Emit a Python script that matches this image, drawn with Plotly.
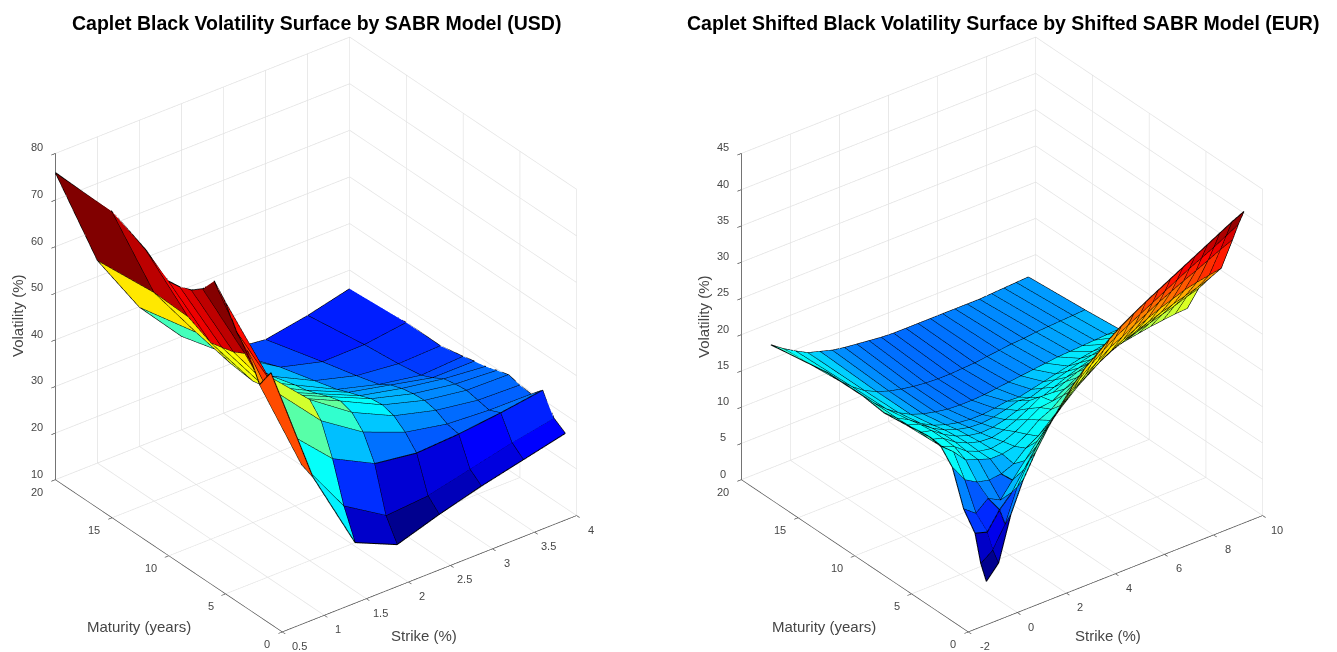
import plotly.graph_objects as go

USD_STRIKES = [0.5, 1, 1.5, 2, 2.5, 3, 3.5, 4]
USD_MATURITIES = [1, 2, 3, 4, 5, 6, 7, 8, 9, 10, 12, 15, 20]
USD_VOL = [
    [64, 38, 20.4, 16.4, 19.3, 21.8, 23.9, 26],
    [59.8, 39.1, 26.6, 21, 21.7, 23.8, 25.9, 27.6],
    [65.1, 43.8, 35.1, 30.5, 29.2, 29.7, 30.7, 32],
    [67.7, 50.9, 41.6, 35.6, 32, 30.2, 29.6, 29.5],
    [72.5, 53.2, 44.5, 38.2, 33.9, 31.5, 30.1, 29.8],
    [75.5, 52.2, 43.2, 39, 34.6, 32, 30.6, 30.4],
    [72.2, 54.8, 42.3, 38.3, 34.3, 31.8, 30.3, 29.7],
    [70.3, 53.5, 41.3, 37.3, 33.3, 31.3, 29.8, 28.9],
    [69.3, 52.8, 40.9, 36.4, 32.4, 30.4, 28.4, 28.4],
    [68.9, 52.2, 40.4, 35.9, 31.4, 28.9, 27.3, 27.8],
    [72.3, 54.5, 41, 34.5, 30, 27.5, 26.5, 26.8],
    [75.7, 54.8, 42.7, 33.6, 28, 25.6, 25.7, 26.9],
    [75.9, 53.5, 39.9, 30.1, 23.3, 22.2, 23.8, 26],
]

EUR_STRIKES = [-0.8, -0.3, 0.2, 0.7, 1.2, 1.7, 2.2, 2.7, 3.2, 3.7, 4.2, 4.7, 5.2, 5.7, 6.2, 6.7, 7.2, 7.7, 8.2, 8.7, 9.2, 9.7]
EUR_MATURITIES = [1, 1.5, 2, 3, 4, 5, 6, 7, 8, 9, 10, 12, 15, 20]
EUR_VOL = [
    [4.3, 6.2, 12.2, 16.3, 19.4, 22.1, 24.4, 26.5, 28.3, 29.6, 31, 32.2, 33.2, 34.2, 35.1, 36, 36.9, 37.8, 38.7, 39.6, 40.5, 41.3],
    [6.3, 7.5, 10.3, 14.8, 17.8, 20.3, 22.5, 24.5, 26.3, 27.7, 29, 30.2, 31.1, 32, 32.9, 33.8, 34.7, 35.6, 36.4, 37.2, 38.1, 39],
    [9.9, 9.4, 11.8, 13.5, 16, 18.5, 20.7, 22.7, 24.3, 25.8, 27, 28.2, 29, 30, 30.9, 31.8, 32.6, 33.4, 34.1, 34.9, 35.7, 36.4],
    [12.2, 10.9, 12.3, 11.4, 13.5, 15.5, 17.5, 19.3, 21, 22.5, 23.9, 25, 26, 26.9, 27.7, 28.5, 29.2, 29.8, 30.4, 30.8, 31.1, 31.4],
    [16.9, 14.5, 13.5, 13.1, 13.3, 14, 15.5, 16.5, 18, 19.5, 21, 22.2, 23.4, 24.3, 25, 25.7, 26.3, 26.9, 27.4, 27.9, 28.4, 29],
    [18.7, 17.3, 15.5, 14.9, 14.3, 14.3, 14.7, 15.7, 17, 17.8, 19.1, 20.3, 21.3, 22.1, 22.8, 23.4, 23.9, 24.4, 24.9, 25.4, 26, 26.5],
    [19, 17, 16.3, 15, 14.3, 14, 14.3, 15, 16, 17, 17.2, 18.2, 19.1, 19.9, 20.6, 21.2, 21.6, 21.9, 22.2, 22.4, 22.6, 22.7],
    [18.8, 16.9, 16.4, 15.2, 14.4, 13.9, 13.8, 14.2, 14.9, 15.8, 16.8, 16.7, 17.5, 18.2, 18.8, 19.3, 19.8, 20.2, 20.6, 20.8, 21, 21.2],
    [18.5, 16.8, 16.4, 15.2, 14.3, 13.7, 13.4, 13.5, 13.9, 14.5, 15.2, 15, 15.7, 16.4, 17, 17.5, 18, 18.4, 18.8, 19.1, 19.4, 19.7],
    [18.3, 16.8, 16.2, 15, 14.1, 13.5, 13.1, 13, 13.2, 13.6, 14.1, 13.9, 14.5, 15, 15.5, 16, 16.4, 16.8, 17.2, 17.6, 18, 18.3],
    [18.1, 16.7, 15.8, 14.6, 13.7, 13.1, 12.7, 12.5, 12.5, 12.7, 13, 12.9, 13.3, 13.7, 14.1, 14.5, 14.9, 15.2, 15.5, 15.8, 16.1, 16.3],
    [18.5, 16.7, 15.2, 14, 13.1, 12.5, 12.1, 11.8, 11.7, 11.7, 11.8, 12, 12.2, 12.4, 12.6, 12.8, 13, 13.1, 13.2, 13.3, 13.4, 13.5],
    [18.4, 16.6, 15.1, 13.9, 13.1, 12.5, 12.1, 11.8, 11.6, 11.5, 11.5, 11.6, 11.7, 11.9, 12.1, 12.3, 12.4, 12.6, 12.7, 12.8, 12.9, 13],
    [17, 15.8, 14.8, 13.9, 13.4, 12.9, 12.6, 12.4, 12.2, 12, 11.9, 11.9, 11.9, 11.9, 11.9, 11.9, 11.9, 11.9, 12, 12.1, 12.2, 12.3],
]

USD_X_TICKS = [0.5, 1, 1.5, 2, 2.5, 3, 3.5, 4]
EUR_X_TICKS = [-2, 0, 2, 4, 6, 8, 10]
Y_TICKS = [0, 5, 10, 15, 20]
USD_Z_TICKS = [10, 20, 30, 40, 50, 60, 70, 80]
EUR_Z_TICKS = [0, 5, 10, 15, 20, 25, 30, 35, 40, 45]

TITLES = ["Caplet Black Volatility Surface by SABR Model (USD)",
          "Caplet Shifted Black Volatility Surface by Shifted SABR Model (EUR)"]

JET = [[0, "rgb(0,0,143)"], [0.125, "rgb(0,0,255)"], [0.375, "rgb(0,255,255)"],
       [0.625, "rgb(255,255,0)"], [0.875, "rgb(255,0,0)"], [1, "rgb(128,0,0)"]]
JET_EUR = [[0, "rgb(0,0,143)"], [0.1, "rgb(0,0,255)"], [0.205, "rgb(0,120,255)"],
           [0.235, "rgb(0,160,255)"], [0.265, "rgb(0,225,255)"], [0.34, "rgb(5,255,250)"],
           [0.48, "rgb(128,255,128)"], [0.6, "rgb(230,255,25)"], [0.625, "rgb(255,255,0)"],
           [0.875, "rgb(255,0,0)"], [1, "rgb(128,0,0)"]]

W, H = 1337, 652
PAGE_MARGIN = 8
TICK = "rgb(70,70,70)"
fig = go.Figure()


def add_surface(scene, xs, ys, zs, scale):
    nx, ny = len(xs), len(ys)
    vx, vy, vz, ii, jj, kk, cell = [], [], [], [], [], [], []
    for r in range(ny):
        for c in range(nx):
            vx.append(xs[c]); vy.append(ys[r]); vz.append(zs[r][c])
    for r in range(ny - 1):
        for c in range(nx - 1):
            a = r * nx + c
            b, d, e = a + 1, a + nx, a + nx + 1
            ii += [a, a]; jj += [b, e]; kk += [e, d]
            cell += [zs[r][c], zs[r][c]]
    lo = min(min(row) for row in zs)
    hi = max(max(row) for row in zs)
    fig.add_trace(go.Mesh3d(x=vx, y=vy, z=vz, i=ii, j=jj, k=kk, intensity=cell,
                            intensitymode="cell", colorscale=scale, cmin=lo, cmax=hi,
                            showscale=False, flatshading=True, hoverinfo="skip",
                            lighting=dict(ambient=1, diffuse=0, specular=0, roughness=1, fresnel=0),
                            scene=scene))
    lx, ly, lz = [], [], []
    for r in range(ny):
        lx += list(xs) + [None]
        ly += [ys[r]] * nx + [None]
        lz += list(zs[r]) + [None]
    for c in range(nx):
        lx += [xs[c]] * ny + [None]
        ly += list(ys) + [None]
        lz += [zs[r][c] for r in range(ny)] + [None]
    fig.add_trace(go.Scatter3d(x=lx, y=ly, z=lz, mode="lines",
                               line=dict(color="black", width=2),
                               hoverinfo="skip", showlegend=False, scene=scene))


add_surface("scene", USD_STRIKES, USD_MATURITIES, USD_VOL, JET)
add_surface("scene2", EUR_STRIKES, EUR_MATURITIES, EUR_VOL, JET_EUR)


def axis(rng, ticks):
    return dict(range=rng, tickvals=ticks, showticklabels=False, title=dict(text=""),
                showbackground=False, showgrid=True, gridcolor="rgb(225,225,225)", gridwidth=1.5,
                zeroline=False, showline=True, linecolor=TICK, linewidth=1.5,
                ticks="outside", ticklen=5, tickcolor=TICK, tickwidth=1.5, showspikes=False)


EYE = dict(x=-0.522 * 1.41, y=-0.680 * 1.41, z=0.515 * 1.41)


def tick_notes(xr, xt, zr, zt):
    out = []
    base = dict(showarrow=False, xanchor="center", yanchor="middle",
                font=dict(family="Liberation Sans", size=11, color=TICK))
    for t in xt:
        out.append(dict(x=t, y=0, z=zr[0], text=str(t), xshift=17 if t == xt[0] else 14, yshift=-14, **base))
    for t in Y_TICKS:
        out.append(dict(x=xr[0], y=t, z=zr[0], text=str(t), xshift=-15 if t < 10 else -18, yshift=-12, **base))
    for t in zt:
        out.append(dict(x=xr[0], y=20, z=t, text=str(t), xshift=-18, yshift=6, **base))
    return out


def scene_layout(domain_x, xr, xt, zr, zt):
    return dict(domain=dict(x=[domain_x[0] / W, domain_x[1] / W], y=[7 / H, 644 / H]),
                xaxis=axis(xr, xt), yaxis=axis([0, 20], Y_TICKS), zaxis=axis(zr, zt),
                aspectmode="manual", aspectratio=dict(x=1.165, y=1.17, z=1.195),
                camera=dict(eye=EYE, up=dict(x=0, y=0, z=1), center=dict(x=0, y=0, z=0),
                            projection=dict(type="orthographic")),
                annotations=tick_notes(xr, xt, zr, zt))


def note(px, py, text, size, bold=False, angle=0):
    return dict(x=(px - PAGE_MARGIN) / W, y=1 - (py - PAGE_MARGIN) / H, xref="paper", yref="paper",
                text=("<b>%s</b>" % text) if bold else text,
                showarrow=False, textangle=angle, xanchor="center", yanchor="middle",
                font=dict(family="Liberation Sans", size=size,
                          color="black" if bold else TICK))


fig.update_layout(
    width=W, height=H, autosize=False, showlegend=False, paper_bgcolor="white",
    margin=dict(l=0, r=0, t=0, b=0),
    scene=scene_layout([8, 608], [0.5, 4], USD_X_TICKS, [10, 80], USD_Z_TICKS),
    scene2=scene_layout([694, 1294], [-2, 10], EUR_X_TICKS, [0, 45], EUR_Z_TICKS),
    annotations=[
        note(316, 23, TITLES[0], 19.5, True),
        note(1002.5, 23, TITLES[1], 19.5, True),
        note(139, 626, "Maturity (years)", 15),
        note(424, 635, "Strike (%)", 15),
        note(18, 316, "Volatility (%)", 15, angle=-90),
        note(824, 626, "Maturity (years)", 15),
        note(1108, 635, "Strike (%)", 15),
        note(703, 317, "Volatility (%)", 15, angle=-90),
    ],
)

fig.write_html("out.html")
